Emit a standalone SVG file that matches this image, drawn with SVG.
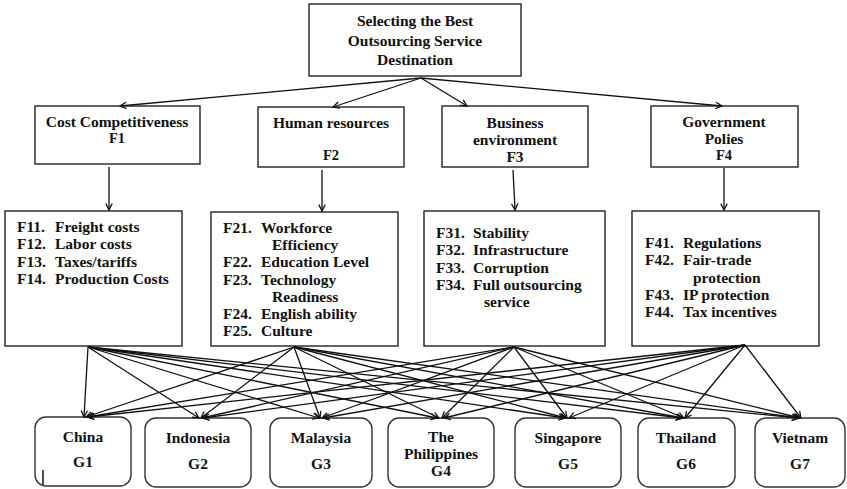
<svg xmlns="http://www.w3.org/2000/svg" width="847" height="489" viewBox="0 0 847 489">
  <style>
    .box { fill: #fff; stroke: #222; stroke-width: 1.4; }
    .rbox { fill: #fff; stroke: #333; stroke-width: 1.4; }
    .t { font-family: "Liberation Serif", "Times New Roman", serif; font-weight: bold; font-size: 15.5px; fill: #111; }
    .s { font-size: 14.5px; }
    .c { text-anchor: middle; }
    .edge { stroke: #111; stroke-width: 1.3; fill: none; marker-end: url(#arrow); }
  </style>
  <defs>
    <marker id="arrow" viewBox="0 0 10 10" refX="9" refY="5" markerWidth="8" markerHeight="8" markerUnits="userSpaceOnUse" orient="auto">
      <path d="M1,1 L9,5 L1,9" fill="none" stroke="#111" stroke-width="1.6"/>
    </marker>
  </defs>
  <rect width="847" height="489" fill="#fff"/>

  <!-- goal -->
  <g id="goal">
    <rect class="box" x="309" y="4" width="212" height="72"/>
    <text class="t c" x="415" y="26">Selecting the Best</text>
    <text class="t c" x="415" y="46">Outsourcing Service</text>
    <text class="t c" x="415" y="65">Destination</text>
  </g>

  <!-- criteria -->
  <g id="f1">
    <rect class="box" x="35" y="106" width="165" height="58"/>
    <text class="t c" x="117" y="127">Cost Competitiveness</text>
    <text class="t s c" x="117" y="143">F1</text>
  </g>
  <g id="f2">
    <rect class="box" x="258" y="107" width="146" height="60"/>
    <text class="t c" x="331" y="128">Human resources</text>
    <text class="t s c" x="331" y="160">F2</text>
  </g>
  <g id="f3">
    <rect class="box" x="442" y="106" width="146" height="61"/>
    <text class="t c" x="515" y="128">Business</text>
    <text class="t c" x="515" y="145">environment</text>
    <text class="t c" x="515" y="162">F3</text>
  </g>
  <g id="f4">
    <rect class="box" x="651" y="106" width="147" height="61"/>
    <text class="t c" x="724" y="127">Government</text>
    <text class="t c" x="724" y="144">Polies</text>
    <text class="t s c" x="724" y="160">F4</text>
  </g>

  <!-- sub-criteria -->
  <g id="sub1">
    <rect class="box" x="5" y="211" width="177" height="135"/>
    <text class="t" x="17" y="232">F11.</text><text class="t" x="55" y="232">Freight costs</text>
    <text class="t" x="17" y="249">F12.</text><text class="t" x="55" y="249">Labor costs</text>
    <text class="t" x="17" y="267">F13.</text><text class="t" x="55" y="267">Taxes/tariffs</text>
    <text class="t" x="17" y="284">F14.</text><text class="t" x="55" y="284">Production Costs</text>
  </g>
  <g id="sub2">
    <rect class="box" x="211" y="212" width="187" height="134"/>
    <text class="t" x="223" y="233">F21.</text><text class="t" x="261" y="233">Workforce</text>
    <text class="t" x="272" y="250">Efficiency</text>
    <text class="t" x="223" y="267">F22.</text><text class="t" x="261" y="267">Education Level</text>
    <text class="t" x="223" y="285">F23.</text><text class="t" x="261" y="285">Technology</text>
    <text class="t" x="272" y="302">Readiness</text>
    <text class="t" x="223" y="319">F24.</text><text class="t" x="261" y="319">English ability</text>
    <text class="t" x="223" y="336">F25.</text><text class="t" x="261" y="336">Culture</text>
  </g>
  <g id="sub3">
    <rect class="box" x="424" y="211" width="181" height="135"/>
    <text class="t" x="436" y="238">F31.</text><text class="t" x="473" y="238">Stability</text>
    <text class="t" x="436" y="255">F32.</text><text class="t" x="473" y="255">Infrastructure</text>
    <text class="t" x="436" y="273">F33.</text><text class="t" x="473" y="273">Corruption</text>
    <text class="t" x="436" y="290">F34.</text><text class="t" x="473" y="290">Full outsourcing</text>
    <text class="t" x="484" y="307">service</text>
  </g>
  <g id="sub4">
    <rect class="box" x="632" y="211" width="187" height="135"/>
    <text class="t" x="645" y="248">F41.</text><text class="t" x="683" y="248">Regulations</text>
    <text class="t" x="645" y="265">F42.</text><text class="t" x="683" y="265">Fair-trade</text>
    <text class="t" x="693" y="283">protection</text>
    <text class="t" x="645" y="300">F43.</text><text class="t" x="683" y="300">IP protection</text>
    <text class="t" x="645" y="317">F44.</text><text class="t" x="683" y="317">Tax incentives</text>
  </g>

  <!-- alternatives -->
  <g id="g1">
    <rect class="rbox" x="35" y="417" width="96" height="69" rx="11"/>
    <text class="t c" x="83" y="442">China</text>
    <text class="t c" x="83" y="467">G1</text>
    <line x1="43" y1="470" x2="43" y2="485" stroke="#111" stroke-width="1.5"/>
  </g>
  <g id="g2">
    <rect class="rbox" x="145" y="418" width="106" height="69" rx="11"/>
    <text class="t c" x="198" y="443">Indonesia</text>
    <text class="t c" x="198" y="469">G2</text>
  </g>
  <g id="g3">
    <rect class="rbox" x="270" y="418" width="102" height="69" rx="11"/>
    <text class="t c" x="321" y="443">Malaysia</text>
    <text class="t c" x="321" y="469">G3</text>
  </g>
  <g id="g4">
    <rect class="rbox" x="388" y="418" width="106" height="69" rx="11"/>
    <text class="t c" x="441" y="442">The</text>
    <text class="t c" x="441" y="459">Philippines</text>
    <text class="t c" x="441" y="476">G4</text>
  </g>
  <g id="g5">
    <rect class="rbox" x="515" y="418" width="106" height="69" rx="11"/>
    <text class="t c" x="568" y="443">Singapore</text>
    <text class="t c" x="568" y="469">G5</text>
  </g>
  <g id="g6">
    <rect class="rbox" x="638" y="418" width="97" height="69" rx="11"/>
    <text class="t c" x="686" y="443">Thailand</text>
    <text class="t c" x="686" y="469">G6</text>
  </g>
  <g id="g7">
    <rect class="rbox" x="755" y="418" width="90" height="69" rx="11"/>
    <text class="t c" x="800" y="443">Vietnam</text>
    <text class="t c" x="800" y="469">G7</text>
  </g>

  <!-- connectors -->
  <g id="connectors">
    <line class="edge" x1="421" y1="78" x2="120" y2="106"/>
    <line class="edge" x1="421" y1="78" x2="333" y2="107"/>
    <line class="edge" x1="421" y1="78" x2="467" y2="106"/>
    <line class="edge" x1="421" y1="78" x2="722" y2="106"/>

    <line class="edge" x1="109" y1="167" x2="109" y2="210"/>
    <line class="edge" x1="322" y1="170" x2="322" y2="211"/>
    <line class="edge" x1="513" y1="170" x2="515" y2="210"/>
    <line class="edge" x1="724" y1="168" x2="724" y2="210"/>

    <line class="edge" x1="88" y1="347" x2="84" y2="417"/>
    <line class="edge" x1="88" y1="347" x2="199" y2="418"/>
    <line class="edge" x1="88" y1="347" x2="319" y2="418"/>
    <line class="edge" x1="88" y1="347" x2="437" y2="418"/>
    <line class="edge" x1="88" y1="347" x2="565" y2="418"/>
    <line class="edge" x1="88" y1="347" x2="682" y2="418"/>
    <line class="edge" x1="88" y1="347" x2="798" y2="418"/>

    <line class="edge" x1="294" y1="347" x2="86" y2="417"/>
    <line class="edge" x1="294" y1="347" x2="201" y2="418"/>
    <line class="edge" x1="294" y1="347" x2="320" y2="418"/>
    <line class="edge" x1="294" y1="347" x2="439" y2="418"/>
    <line class="edge" x1="294" y1="347" x2="566" y2="418"/>
    <line class="edge" x1="294" y1="347" x2="683" y2="418"/>
    <line class="edge" x1="294" y1="347" x2="799" y2="418"/>

    <line class="edge" x1="514" y1="347" x2="87" y2="417"/>
    <line class="edge" x1="514" y1="347" x2="202" y2="418"/>
    <line class="edge" x1="514" y1="347" x2="322" y2="418"/>
    <line class="edge" x1="514" y1="347" x2="442" y2="418"/>
    <line class="edge" x1="514" y1="347" x2="567" y2="418"/>
    <line class="edge" x1="514" y1="347" x2="684" y2="418"/>
    <line class="edge" x1="514" y1="347" x2="800" y2="418"/>

    <line class="edge" x1="745" y1="345" x2="88" y2="417"/>
    <line class="edge" x1="745" y1="345" x2="203" y2="418"/>
    <line class="edge" x1="745" y1="345" x2="323" y2="418"/>
    <line class="edge" x1="745" y1="345" x2="444" y2="418"/>
    <line class="edge" x1="745" y1="345" x2="569" y2="418"/>
    <line class="edge" x1="745" y1="345" x2="685" y2="418"/>
    <line class="edge" x1="745" y1="345" x2="801" y2="418"/>
  </g>
</svg>
